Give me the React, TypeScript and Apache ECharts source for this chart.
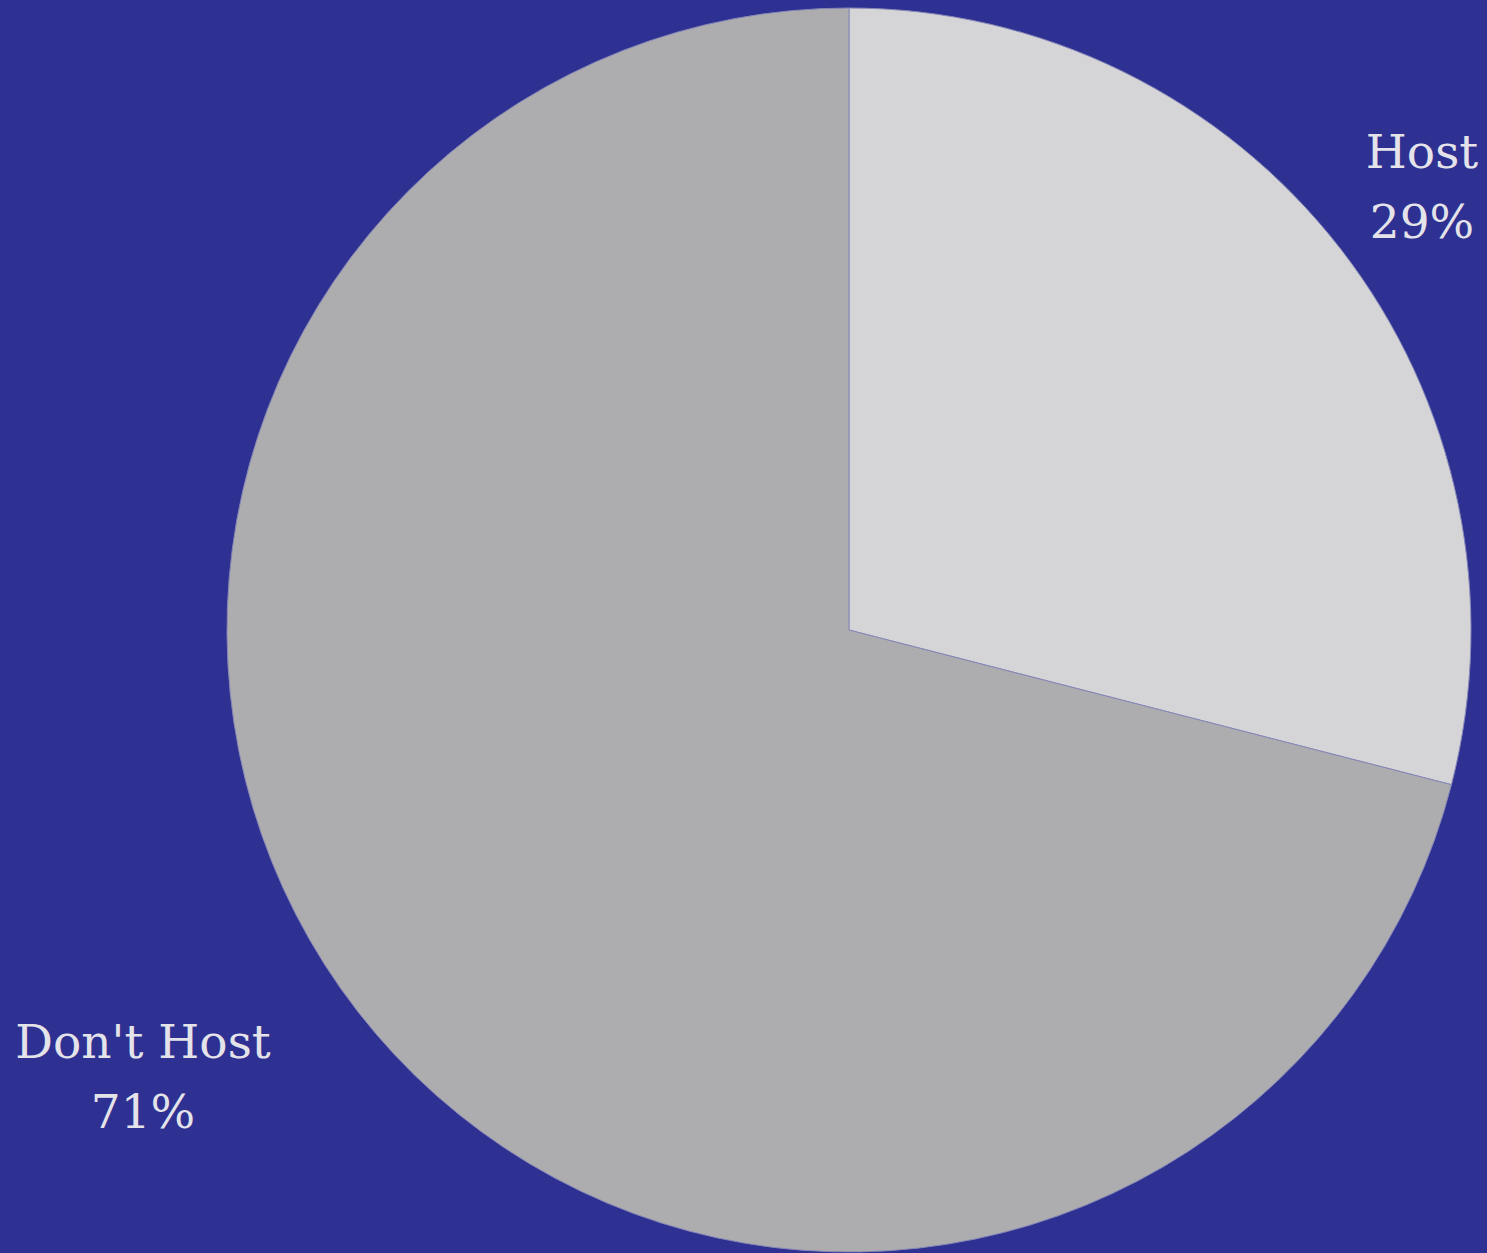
import React, { useEffect, useRef } from "react";
import * as echarts from "echarts";

const categories = ["Host", "Don't Host"];
const values = [29, 71];
const sliceColors = ["#D5D4D6", "#ADACAE"];
const labelSpots = [
  [1422, 186],
  [143, 1076],
];

export default function App() {
  const ref = useRef<HTMLDivElement>(null);
  useEffect(() => {
    if (!ref.current) return;
    const chart = echarts.init(ref.current, null, { renderer: "svg" });
    chart.setOption({
      animation: false,
      backgroundColor: "#2E3192",
      series: [
        {
          type: "pie",
          center: [849, 630],
          radius: 622,
          startAngle: 90,
          clockwise: true,
          data: categories.map((c, i) => ({
            name: c,
            value: values[i],
            itemStyle: { color: sliceColors[i] },
          })),
          itemStyle: { borderColor: "#8788B8", borderWidth: 1 },
          label: {
            show: true,
            position: "inside",
            overflow: "none",
            formatter: (p: any) => `${p.name}\n${p.value}%`,
            color: "#E4E3EA",
            fontFamily: "DejaVu Serif",
            fontSize: 47,
            lineHeight: 70,
            align: "center",
          },
          labelLine: { show: false },
          labelLayout: (params: any) => {
            const s = labelSpots[params.dataIndex];
            return { x: s[0], y: s[1], align: "center", verticalAlign: "middle" };
          },
          emphasis: { disabled: true },
        },
      ],
    });
    return () => chart.dispose();
  }, []);
  return (
    <div
      ref={ref}
      style={{ position: "absolute", left: 0, top: 0, width: 1487, height: 1253 }}
    />
  );
}
